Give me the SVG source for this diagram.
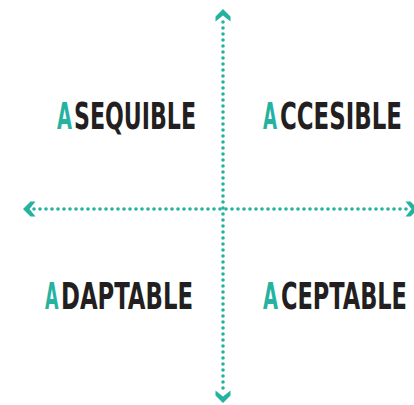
<svg xmlns="http://www.w3.org/2000/svg" width="414" height="405" viewBox="0 0 414 405">
<style>
.axis{stroke:#25b2a1;stroke-width:3.6;stroke-linecap:round;stroke-dasharray:0 6;fill:none}
.head{fill:#25b2a1}
.lbl{font-family:"Liberation Sans Narrow","DejaVu Sans Condensed","Liberation Sans",sans-serif;font-weight:bold;font-size:37.5px;fill:#231f20}
.hl{fill:#25b2a1}
</style>
<defs>
<path id="chev" d="M0,0 L7.5,7.5 L7.5,12.5 L0,6.5 L-7.5,12.5 L-7.5,7.5 Z"/>
</defs>
<g id="connectors">
<line class="axis" x1="223" y1="22" x2="223" y2="392"/>
<line class="axis" x1="34" y1="209" x2="410" y2="209"/>
<use href="#chev" class="head" transform="translate(223,9)"/>
<use href="#chev" class="head" transform="translate(223,403) rotate(180)"/>
<use href="#chev" class="head" transform="translate(23,209) rotate(-90)"/>
<use href="#chev" class="head" transform="translate(418,209) rotate(90)"/>
</g>
<g id="asequible">
<text class="lbl hl" x="57" y="129" textLength="15" lengthAdjust="spacingAndGlyphs">A</text>
<text class="lbl" x="74" y="129" textLength="122" lengthAdjust="spacingAndGlyphs">SEQUIBLE</text>
</g>
<g id="accesible">
<text class="lbl hl" x="263" y="129" textLength="14" lengthAdjust="spacingAndGlyphs">A</text>
<text class="lbl" x="280" y="129" textLength="122" lengthAdjust="spacingAndGlyphs">CCESIBLE</text>
</g>
<g id="adaptable">
<text class="lbl hl" x="45" y="309" textLength="13.5" lengthAdjust="spacingAndGlyphs">A</text>
<text class="lbl" x="61" y="309" textLength="132" lengthAdjust="spacingAndGlyphs">DAPTABLE</text>
</g>
<g id="aceptable">
<text class="lbl hl" x="263" y="309" textLength="15" lengthAdjust="spacingAndGlyphs">A</text>
<text class="lbl" x="281" y="309" textLength="126" lengthAdjust="spacingAndGlyphs">CEPTABLE</text>
</g>
</svg>
